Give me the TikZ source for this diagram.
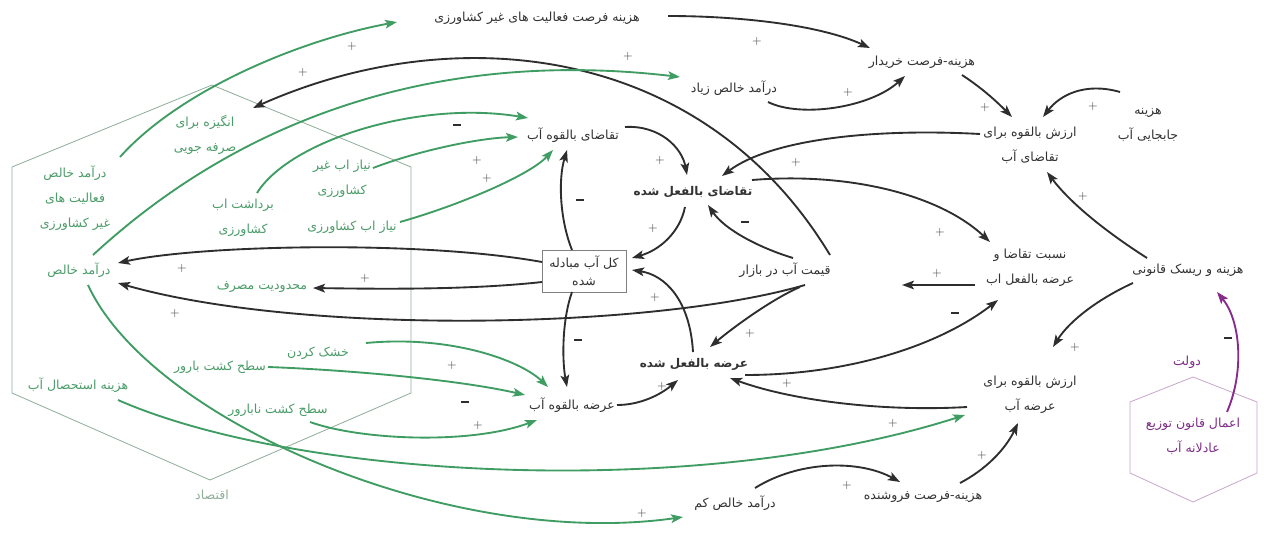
\documentclass[tikz,border=0pt]{standalone}
\usepackage{fontspec}
\usetikzlibrary{arrows.meta}
\TeXXeTstate=1
\newfontfamily\arabicfont[Script=Arabic]{DejaVu Sans}
\newcommand{\fatext}[1]{\beginR #1\endR}
\newcommand{\minussign}{\rule{6pt}{1.6pt}}
\definecolor{arrgray}{HTML}{2E2E2E}
\definecolor{txtgray}{HTML}{333333}
\definecolor{arrgreen}{HTML}{3F9C62}
\definecolor{txtgreen}{HTML}{4C9C6A}
\definecolor{arrpurple}{HTML}{8A2A8C}
\definecolor{txtpurple}{HTML}{7D2D86}
\definecolor{econline}{HTML}{8FAE98}
\definecolor{govline}{HTML}{C8A6CC}
\definecolor{signgray}{HTML}{444444}
\begin{document}
\begin{tikzpicture}[x=0.75pt,y=-0.75pt,
  lab/.style={font=\arabicfont\fontsize{9.4}{18.5}\selectfont, text=txtgray, inner sep=1pt, align=center},
  glab/.style={lab, text=txtgreen},
  plab/.style={lab, text=txtpurple},
  boldlab/.style={lab, font=\arabicfont\bfseries\fontsize{9}{18.5}\selectfont},
  blk/.style={draw=arrgray, line width=1.4pt, -{Stealth[length=9pt,width=6.5pt,inset=2pt]}},
  grn/.style={blk, draw=arrgreen},
  prp/.style={blk, draw=arrpurple},
  sgn/.style={inner sep=0pt, text=signgray, font=\fontsize{9}{9}\selectfont}
]
\fill[white] (0,0) rectangle (1264,535);
\useasboundingbox (0,0) rectangle (1264,535);

% economy and government boundaries
\draw[econline, line width=0.6pt] (212,85) -- (411,167) -- (411,393) -- (210,480) -- (12,393) -- (12,167) -- cycle;
\draw[govline, line width=0.6pt] (1193,377) -- (1257,402) -- (1257,473) -- (1193,502) -- (1130,473) -- (1130,402) -- cycle;

% market variables
\node[lab] (opp) at (537,18) {\fatext{هزینه فرصت فعالیت های غیر کشاورزی}};
\node[lab] (buy) at (922,62) {\fatext{هزینه-فرصت خریدار}};
\node[lab] (hinc) at (734,88) {\fatext{درآمد خالص زیاد}};
\node[lab] (pdv) at (1030,145) {\fatext{ارزش بالقوه برای}\\\fatext{تقاضای آب}};
\node[lab] (trans) at (1148,125) {\fatext{هزینه}\\\fatext{جابجایی آب}};
\node[lab] (pdem) at (573,135) {\fatext{تقاضای بالقوه آب}};
\node[boldlab] (adem) at (693,192) {\fatext{تقاضای بالفعل شده}};
\node[lab, draw=gray, line width=0.6pt, minimum width=63pt, minimum height=31.5pt, inner sep=1pt, font=\arabicfont\fontsize{9.4}{13.5}\selectfont] (tot) at (584,271) {\fatext{کل آب مبادله}\\\fatext{شده}};
\node[lab] (price) at (785,270) {\fatext{قیمت آب در بازار}};
\node[lab] (ratio) at (1030,268) {\fatext{نسبت تقاضا و}\\\fatext{عرضه بالفعل اب}};
\node[lab] (legal) at (1188,270) {\fatext{هزینه و ریسک قانونی}};
\node[boldlab] (asup) at (694,364) {\fatext{عرضه بالفعل شده}};
\node[lab] (psup) at (572,405) {\fatext{عرضه بالقوه آب}};
\node[lab] (psv) at (1030,395) {\fatext{ارزش بالقوه برای}\\\fatext{عرضه آب}};
\node[lab] (linc) at (735,503) {\fatext{درآمد خالص کم}};
\node[lab] (sell) at (923,497) {\fatext{هزینه-فرصت فروشنده}};

% economy variables
\node[glab] (lim) at (262,287) {\fatext{محدودیت مصرف}};
\node[glab] (inc) at (205,135) {\fatext{انگیزه برای}\\\fatext{صرفه جویی}};
\node[glab] (nainc) at (75,198) {\fatext{درآمد خالص}\\\fatext{فعالیت های}\\\fatext{غیر کشاورزی}};
\node[glab] (net) at (79,270) {\fatext{درآمد خالص}};
\node[glab] (naneed) at (342,179) {\fatext{نیاز اب غیر}\\\fatext{کشاورزی}};
\node[glab] (wd) at (243,218) {\fatext{برداشت اب}\\\fatext{کشاورزی}};
\node[glab] (aneed) at (352,227) {\fatext{نیاز اب کشاورزی}};
\node[glab] (dry) at (318,353) {\fatext{خشک کردن}};
\node[glab] (fert) at (220,367) {\fatext{سطح کشت بارور}};
\node[glab] (ext) at (78,385) {\fatext{هزینه استحصال آب}};
\node[glab] (infert) at (278,410) {\fatext{سطح کشت نابارور}};
\node[lab, text=econline] (econ) at (212,495) {\fatext{اقتصاد}};

% government
\node[plab] (gov) at (1187,362) {\fatext{دولت}};
\node[plab] (law) at (1193,436) {\fatext{اعمال قانون توزیع}\\\fatext{عادلانه آب}};

% black links
\draw[blk] ([shift={(131,-2)}]opp.center) .. controls (740,16) and (820,25) .. ([shift={(-52,-14)}]buy.center);
\draw[blk] ([shift={(34,14)}]hinc.center) .. controls (800,118) and (870,108) .. ([shift={(-17,14)}]buy.center);
\draw[blk] ([shift={(40,13)}]buy.center) .. controls (985,90) and (1000,105) .. ([shift={(-18,-28)}]pdv.center);
\draw[blk] ([shift={(-28,-33)}]trans.center) .. controls (1085,82) and (1060,95) .. ([shift={(13,-28)}]pdv.center);
\draw[blk] ([shift={(-50,-11)}]pdv.center) .. controls (870,128) and (770,140) .. ([shift={(29,-16)}]adem.center);
\draw[blk] ([shift={(-41,-12)}]legal.center) .. controls (1100,228) and (1068,200) .. ([shift={(17,27)}]pdv.center);
\draw[blk] ([shift={(-55,13)}]legal.center) .. controls (1100,298) and (1070,320) .. ([shift={(23,-48)}]psv.center);
\draw[blk] ([shift={(52,-8)}]pdem.center) .. controls (660,125) and (682,148) .. ([shift={(-6,-17)}]adem.center);
\draw[blk] ([shift={(-8,15)}]adem.center) .. controls (680,232) and (660,250) .. ([shift={(48,-13)}]tot.center);
\draw[blk] ([shift={(59,-12)}]adem.center) .. controls (850,172) and (940,195) .. ([shift={(-40,-26)}]ratio.center);
\draw[blk] ([shift={(8,-12)}]price.center) .. controls (760,248) and (725,230) .. ([shift={(15,13)}]adem.center);
\draw[blk] ([shift={(45,-15)}]price.center) .. controls (700,40) and (450,20) .. ([shift={(48,-27)}]inc.center);
\draw[blk] ([shift={(-12,-21)}]tot.center) .. controls (560,220) and (558,180) .. ([shift={(-6,15)}]pdem.center);
\draw[blk] ([shift={(-12,21)}]tot.center) .. controls (562,320) and (562,360) .. ([shift={(-5,-18)}]psup.center);
\draw[blk] ([shift={(-1,-12)}]asup.center) .. controls (690,300) and (665,275) .. ([shift={(48,-1)}]tot.center);
\draw[blk] ([shift={(-42,-9)}]tot.center) .. controls (420,240) and (200,245) .. ([shift={(39,-7)}]net.center);
\draw[blk] ([shift={(-42,11)}]tot.center) .. controls (470,290) and (380,289) .. ([shift={(51,1)}]lim.center);
\draw[blk] ([shift={(20,15)}]price.center) .. controls (650,330) and (300,335) .. ([shift={(39,13)}]net.center);
\draw[blk] ([shift={(15,17)}]price.center) .. controls (770,300) and (730,330) .. ([shift={(16,-17)}]asup.center);
\draw[blk] ([shift={(-55,17)}]ratio.center) -- ([shift={(117,15)}]price.center);
\draw[blk] ([shift={(51,11)}]asup.center) .. controls (850,375) and (940,345) .. ([shift={(-32,32)}]ratio.center);
\draw[blk] ([shift={(-63,12)}]psv.center) .. controls (880,412) and (790,400) .. ([shift={(36,14)}]asup.center);
\draw[blk] ([shift={(45,0)}]psup.center) .. controls (640,405) and (660,395) .. ([shift={(-16,16)}]asup.center);
\draw[blk] ([shift={(20,-15)}]linc.center) .. controls (800,460) and (860,460) .. ([shift={(-23,-15)}]sell.center);
\draw[blk] ([shift={(37,-14)}]sell.center) .. controls (985,470) and (1005,450) .. ([shift={(-12,28)}]psv.center);

% government link
\draw[prp] ([shift={(34,-24)}]law.center) .. controls (1245,370) and (1240,320) .. ([shift={(29,22)}]legal.center);

% green links
\draw[grn] ([shift={(45,-41)}]nainc.center) .. controls (180,90) and (300,40) .. ([shift={(-140,4)}]opp.center);
\draw[grn] ([shift={(14,-15)}]net.center) .. controls (250,110) and (450,50) .. ([shift={(-54,-11)}]hinc.center);
\draw[grn] ([shift={(14,-25)}]wd.center) .. controls (290,140) and (420,100) .. ([shift={(-45,-17)}]pdem.center);
\draw[grn] ([shift={(31,-11)}]naneed.center) .. controls (420,150) and (480,138) .. ([shift={(-55,2)}]pdem.center);
\draw[grn] ([shift={(48,-5)}]aneed.center) .. controls (460,205) and (530,175) .. ([shift={(-20,15)}]pdem.center);
\draw[grn] ([shift={(48,-10)}]dry.center) .. controls (450,335) and (520,360) .. ([shift={(-24,-18)}]psup.center);
\draw[grn] ([shift={(48,0)}]fert.center) .. controls (350,370) and (460,380) .. ([shift={(-47,-10)}]psup.center);
\draw[grn] ([shift={(32,12)}]infert.center) .. controls (360,440) and (470,445) .. ([shift={(-35,15)}]psup.center);
\draw[grn] ([shift={(40,15)}]ext.center) .. controls (300,480) and (700,500) .. ([shift={(-65,20)}]psv.center);
\draw[grn] ([shift={(9,15)}]net.center) .. controls (150,420) and (450,550) .. ([shift={(-52,14)}]linc.center);

% polarity signs
\foreach \p in {(757,42),(848,93),(985,108),(1093,106),(796,162),(1083,196),(1075,347),(660,160),(653,228),(940,232),(303,72),(655,297),(182,268),(365,278),(175,313),(750,333),(937,273),(787,383),(662,386),(847,485),(982,455),(352,47),(628,57),(477,160),(487,178),(452,365),(478,425),(893,423),(642,513)}
  \node[sgn] at \p {$+$};
\foreach \p in {(745,222),(580,200),(578,340),(955,313),(1228,338),(457,125),(465,402)}
  \node[sgn, text=arrgray] at \p {\minussign};
\end{tikzpicture}
\end{document}
